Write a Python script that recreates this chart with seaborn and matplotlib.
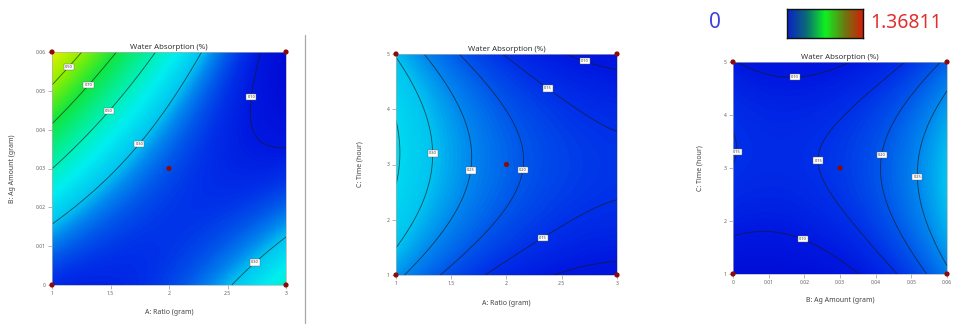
import numpy as np
import pandas as pd
import matplotlib
matplotlib.use('Agg')
import matplotlib.pyplot as plt
import seaborn as sns
from matplotlib.colors import LinearSegmentedColormap
from matplotlib.lines import Line2D

sns.set_theme(style='white')
plt.rcParams['font.family'] = ['Noto Sans', 'DejaVu Sans']

# factor levels of the design (low, centre, high)
ratio_pts = [1, 2, 3]
ag_pts = [0, 0.03, 0.06]
time_pts = [1, 3, 5]

# water absorption at the design grid
# rows: second factor low -> high, cols: first factor low -> high
wa_ratio_ag = [[0.15, 0.17, 0.46],
               [0.50, 0.17, 0.16],
               [1.08, 0.47, 0.01]]
wa_ratio_time = [[0.262, 0.135, 0.08],
                 [0.355, 0.212, 0.16],
                 [0.298, 0.144, 0.08]]
wa_ag_time = [[0.040, 0.087, 0.239],
              [0.154, 0.162, 0.296],
              [0.103, 0.088, 0.216]]

levels_ratio_ag = [0.1, 0.3, 0.5, 0.7, 0.9]
levels_ratio_time = [0.1, 0.15, 0.2, 0.25, 0.3, 0.35]
levels_ag_time = [0.1, 0.15, 0.2, 0.25]

wa_min, wa_max = 0, 1.36811

ratio_ticks = [1, 1.5, 2, 2.5, 3]
ratio_ticklabels = ['1', '1.5', '2', '2.5', '3']
ag_ticks = [0, 0.01, 0.02, 0.03, 0.04, 0.05, 0.06]
ag_ticklabels = ['0', '0.01', '0.02', '0.03', '0.04', '0.05', '0.06']
time_ticks = [1, 2, 3, 4, 5]
time_ticklabels = ['1', '2', '3', '4', '5']

# colours of the response scale
stop_vals = [0.0, 0.1, 0.15, 0.2, 0.25, 0.3, 0.4, 0.5, 0.7, 0.9, 1.1, 1.36811]
stop_cols = ['#0005d0', '#0018e0', '#0030e8', '#0058ea', '#0088ee', '#00c4f0',
             '#00eef0', '#00f0b8', '#10e640', '#90f000', '#e6f000', '#e61a00']
cmap = LinearSegmentedColormap.from_list(
    'wa', list(zip([v / wa_max for v in stop_vals], stop_cols)))
bar_cmap = LinearSegmentedColormap.from_list(
    'bar', ['#0a1fc8', '#0b6a78', '#10f020', '#6a7a10', '#d81808'])


def fit_surface(xp, yp, z, n=240):
    xp = np.asarray(xp, float)
    yp = np.asarray(yp, float)

    def coded(v, p):
        return (v - p[1]) / (p[2] - p[1])

    def terms(u, v):
        return np.stack([np.ones_like(u), u, v, u * v, u ** 2, v ** 2], -1)

    X, Y = np.meshgrid(xp, yp)
    A = terms(coded(X, xp).ravel(), coded(Y, yp).ravel())
    beta = np.linalg.lstsq(A, np.asarray(z, float).ravel(), rcond=None)[0]
    gx = np.linspace(xp[0], xp[-1], n)
    gy = np.linspace(yp[0], yp[-1], n)
    GX, GY = np.meshgrid(gx, gy)
    return GX, GY, terms(coded(GX, xp), coded(GY, yp)) @ beta


def draw_panel(ax, xp, yp, z, levels, label_pos, xticks, xtl, yticks, ytl,
               xlabel, ylabel, xlab_y, ylab_x):
    GX, GY, GZ = fit_surface(xp, yp, z)
    ax.imshow(GZ, origin='lower', extent=[xp[0], xp[-1], yp[0], yp[-1]],
              aspect='auto', cmap=cmap, vmin=wa_min, vmax=wa_max,
              interpolation='bilinear')
    cs = ax.contour(GX, GY, GZ, levels=levels, colors='#1a1a1a',
                    linewidths=0.6, alpha=0.7)
    lbls = ax.clabel(cs, manual=label_pos, fmt='%.2f', fontsize=2.8, inline=False)
    for t in lbls:
        t.set_rotation(0)
        t.set_color('#333333')
        t.set_bbox(dict(boxstyle='square,pad=0.3', fc='white', ec='#666666', lw=0.3))

    # design points: corners and centre
    pts = pd.DataFrame({'x': [xp[0], xp[0], xp[2], xp[2], xp[1]],
                        'y': [yp[0], yp[2], yp[0], yp[2], yp[1]]})
    sns.scatterplot(data=pts, x='x', y='y', ax=ax, color='#8b0a0a', s=14,
                    edgecolor='none', zorder=6, clip_on=False, legend=False)

    ax.set_xlim(xp[0], xp[-1])
    ax.set_ylim(yp[0], yp[-1])
    ax.set_xticks(xticks)
    ax.set_xticklabels(xtl)
    ax.set_yticks(yticks)
    ax.set_yticklabels(ytl)
    ax.tick_params(bottom=True, left=True, labelsize=3.6, length=3, width=0.4,
                   colors='#808080', labelcolor='#606060', pad=1.5)
    for sp in ax.spines.values():
        sp.set_color('#b0b0b0')
        sp.set_linewidth(0.5)
    ax.set_title('Water Absorption (%)', fontsize=5.6, color='#333333', pad=2.5)
    ax.set_xlabel(xlabel, fontsize=5, color='#444444', va='center')
    ax.set_ylabel(ylabel, fontsize=5, color='#444444', va='center')
    ax.xaxis.set_label_coords(0.5, xlab_y)
    ax.yaxis.set_label_coords(ylab_x, 0.5)


fig = plt.figure(figsize=(9.54, 3.29), dpi=100)
W, H = 954, 329


def px_axes(left, top, right, bottom):
    return fig.add_axes([left / W, 1 - bottom / H, (right - left) / W, (bottom - top) / H])


ax1 = px_axes(52, 52, 286, 285)
ax2 = px_axes(396, 54, 617, 275)
ax3 = px_axes(733, 62, 947, 274)

draw_panel(ax1, ratio_pts, ag_pts, wa_ratio_ag, levels_ratio_ag,
           [(1.15, 0.056), (1.33, 0.051), (1.52, 0.044), (1.8, 0.035),
            (2.82, 0.048), (2.7, 0.007)],
           ratio_ticks, ratio_ticklabels, ag_ticks, ag_ticklabels,
           'A: Ratio (gram)', 'B: Ag Amount (gram)', -0.12, -0.167)
draw_panel(ax2, ratio_pts, time_pts, wa_ratio_time, levels_ratio_time,
           [(1.3, 3.2), (1.65, 2.9), (2.13, 2.9), (2.38, 4.4),
            (2.72, 4.93), (2.35, 1.6)],
           ratio_ticks, ratio_ticklabels, time_ticks, time_ticklabels,
           'A: Ratio (gram)', 'C: Time (hour)', -0.127, -0.163)
draw_panel(ax3, ag_pts, time_pts, wa_ag_time, levels_ag_time,
           [(0.0173, 4.7), (0.0021, 3.29), (0.0239, 3.14), (0.0425, 3.23),
            (0.0528, 2.83), (0.0192, 1.6)],
           ag_ticks, ag_ticklabels, time_ticks, time_ticklabels,
           'B: Ag Amount (gram)', 'C: Time (hour)', -0.127, -0.154)

# separator between the first and second plot
fig.add_artist(Line2D([305 / W, 305 / W], [1 - 35 / H, 1 - 323 / H],
                      transform=fig.transFigure, color='#a8a8a8', lw=0.9))

# colour scale legend
cax = px_axes(787, 9, 863, 38)
cax.imshow(np.linspace(0, 1, 256)[None, :], aspect='auto', cmap=bar_cmap)
cax.set_xticks([])
cax.set_yticks([])
for sp in cax.spines.values():
    sp.set_color('#111111')
    sp.set_linewidth(1.0)
fig.text(715 / W, 1 - 23 / H, '0', fontsize=15, color='#4040e0', ha='center', va='center')
fig.text(906 / W, 1 - 23 / H, f'{wa_max:g}', fontsize=14, color='#e03030',
         ha='center', va='center')

fig.savefig('out.png', dpi=100)
